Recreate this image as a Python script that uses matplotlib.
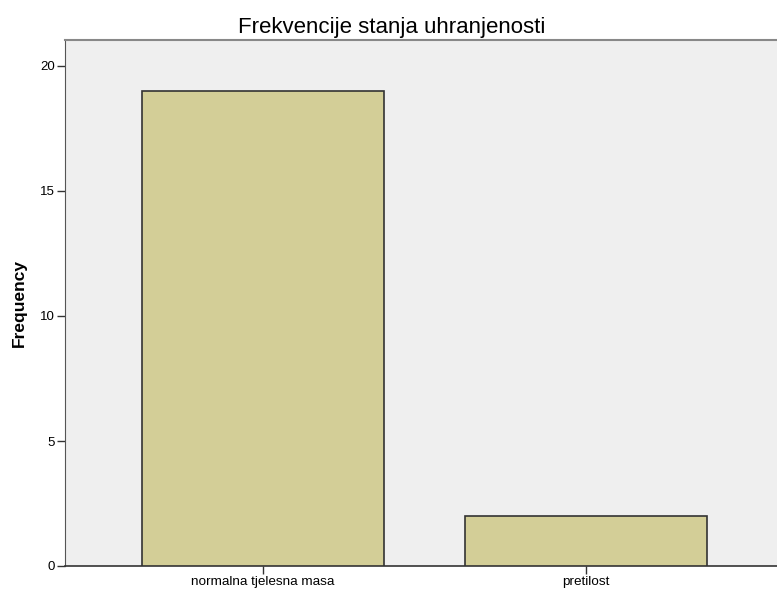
import matplotlib
matplotlib.use("Agg")
import matplotlib.pyplot as plt

categories = ["normalna tjelesna masa", "pretilost"]
values = [19, 2]
yticks = [0, 5, 10, 15, 20]

plt.rcParams['font.family'] = ['Liberation Sans', 'DejaVu Sans']

fig = plt.figure(figsize=(7.77, 5.92), dpi=100)
ax = fig.add_axes([65/777, 26/592, 1 - 65/777 + 0.01, (566-40)/592])
ax.set_facecolor("#EFEFEF")
x = list(range(len(categories)))
ax.bar(x, values, width=0.75, color="#D3CE97", edgecolor="#333333", linewidth=1.2, zorder=3)
ax.set_xlim(-0.613, 1.615)
ax.set_ylim(0, 21.04)
ax.set_xticks(x)
ax.set_xticklabels(categories, fontsize=9.7)
ax.set_yticks(yticks)
ax.set_yticklabels([str(t) for t in yticks], fontsize=9.5)
ax.tick_params(axis='both', direction='out', length=6, width=1, color="#333333", pad=1.5)
ax.spines['right'].set_visible(False)
ax.spines['top'].set_color("#888888")
ax.spines['top'].set_linewidth(1.5)
ax.spines['left'].set_color("#555555")
ax.spines['bottom'].set_color("#333333")
ax.spines['bottom'].set_linewidth(1.2)
ax.set_ylabel("Frequency", fontsize=12.5, fontweight='bold', labelpad=9)
fig.text(392/777, 1 - 27/592, "Frekvencije stanja uhranjenosti", ha='center', va='center',
         fontsize=16, fontweight='normal', color='black')
fig.savefig("out.png", dpi=100)
